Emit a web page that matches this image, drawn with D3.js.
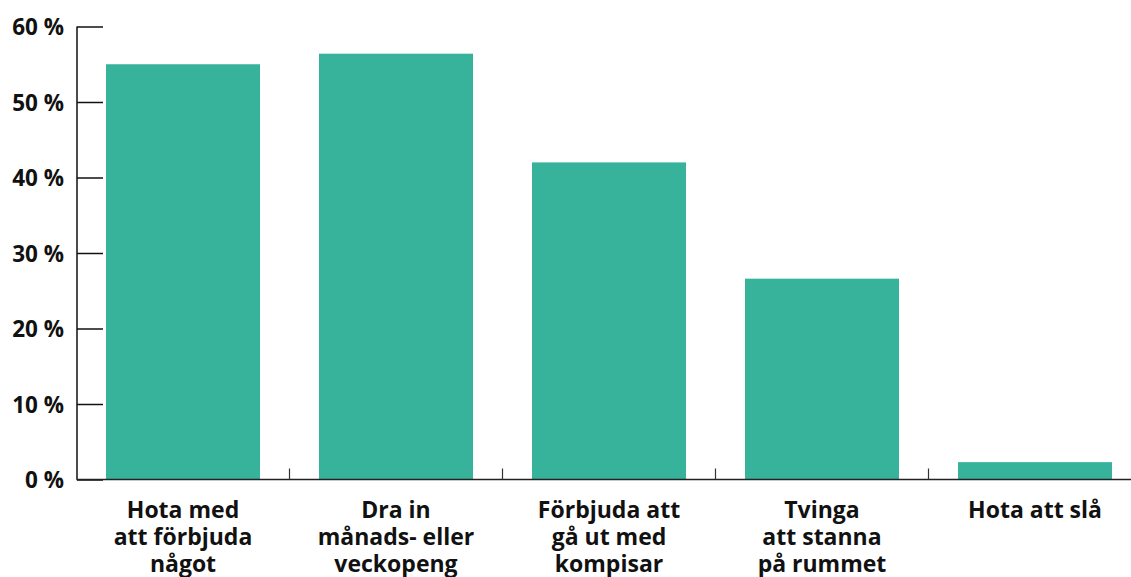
<!DOCTYPE html>
<meta charset="utf-8">
<style>
    body { margin: 0; background: #fff; }
    text { font-family: "Open Sans", sans-serif; font-weight: bold; fill: #111; }
</style>
<body>
<script src="https://d3js.org/d3.v7.min.js"></script>
<script>

// Data
var categories = ['Hota med\natt förbjuda\nnågot', 'Dra in\nmånads- eller\nveckopeng', 'Förbjuda att\ngå ut med\nkompisar', 'Tvinga\natt stanna\npå rummet', 'Hota att slå'];
var values = [55, 56.4, 42, 26.6, 2.3];
var yTicks = [0, 10, 20, 30, 40, 50, 60];

var width = 1131, height = 577;
var barColor = '#36b39a';

var svg = d3.select('body').append('svg')
    .attr('width', width)
    .attr('height', height);

var x = d3.scaleBand()
    .domain(categories)
    .range([76.5, 1141.5])
    .paddingInner(0.277)
    .paddingOuter(0.1385);

var y = d3.scaleLinear()
    .domain([0, 60])
    .range([479.5, 26.5]);

// bars
svg.append('g').selectAll('rect')
    .data(values)
    .enter().append('rect')
    .attr('x', function(d, i) { return x(categories[i]); })
    .attr('y', function(d) { return y(d); })
    .attr('width', x.bandwidth())
    .attr('height', function(d) { return y(0) - y(d); })
    .style('fill', barColor);

// y axis, ticks pointing into the plot
var yAxis = svg.append('g')
    .attr('transform', 'translate(77,0)')
    .call(d3.axisRight(y).tickValues(yTicks).tickSize(26).tickFormat(function(d) { return d + ' %'; }));
yAxis.select('.domain').attr('d', 'M0,' + y(60) + 'V' + y(0)).attr('stroke', '#111').attr('stroke-width', 1.5);
yAxis.selectAll('.tick line').attr('stroke', '#111').attr('stroke-width', 1.5);
yAxis.selectAll('.tick text')
    .attr('x', -13)
    .attr('dy', '0.36em')
    .style('text-anchor', 'end')
    .style('font-size', '22.5px');

// x axis line with small upward ticks between categories
var xg = svg.append('g');
xg.append('line')
    .attr('x1', 76.5).attr('x2', width)
    .attr('y1', y(0)).attr('y2', y(0))
    .attr('stroke', '#222').attr('stroke-width', 1.5);

var step = x.step();
xg.selectAll('.sep')
    .data(categories.slice(1))
    .enter().append('line')
    .attr('class', 'sep')
    .attr('x1', function(d) { return x(d) - (step - x.bandwidth()) / 2; })
    .attr('x2', function(d) { return x(d) - (step - x.bandwidth()) / 2; })
    .attr('y1', y(0)).attr('y2', y(0) - 11)
    .attr('stroke', '#333').attr('stroke-width', 1.2);

// category labels
var labels = xg.selectAll('.cat')
    .data(categories)
    .enter().append('text')
    .attr('class', 'cat')
    .attr('x', function(d) { return x(d) + x.bandwidth() / 2; })
    .attr('y', 518)
    .style('text-anchor', 'middle')
    .style('font-size', '23px');

labels.each(function(d) {
    var t = d3.select(this);
    d.split('\n').forEach(function(line, i) {
        t.append('tspan')
            .attr('x', t.attr('x'))
            .attr('dy', i == 0 ? 0 : 27)
            .text(line);
    });
});

</script>
</body>
